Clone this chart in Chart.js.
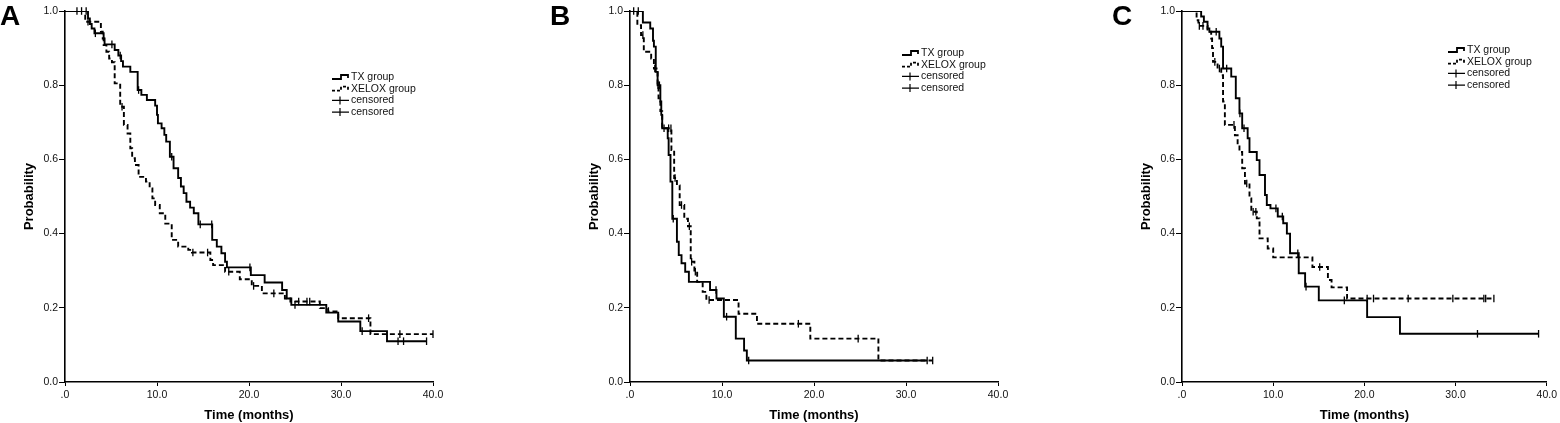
<!DOCTYPE html>
<html>
<head>
<meta charset="utf-8">
<script src="https://cdn.jsdelivr.net/npm/chart.js@4.4.1/dist/chart.umd.min.js"></script>
<style>
  html, body { margin: 0; padding: 0; background: #fff; }
  #wrap { position: relative; width: 1560px; height: 423px; overflow: hidden; }
  .panel { position: absolute; top: 0; width: 520px; height: 423px; }
  .letter { position: absolute; top: 2px; font: bold 28px "Liberation Sans", Arial, sans-serif; line-height: 1; color: #000; }
</style>
</head>
<body>
<div id="wrap">
  <div class="panel" style="left:0px"><canvas id="chartA"></canvas></div>
  <div class="panel" style="left:520px"><canvas id="chartB"></canvas></div>
  <div class="panel" style="left:1040px"><canvas id="chartC"></canvas></div>
  <div class="letter" style="left:0px">A</div>
  <div class="letter" style="left:550px">B</div>
  <div class="letter" style="left:1112px">C</div>
</div>
<script>
var xTickLabels = [".0", "10.0", "20.0", "30.0", "40.0"];
var yTickLabels = ["0.0", "0.2", "0.4", "0.6", "0.8", "1.0"];
var legendLabels = ["TX group", "XELOX group", "censored", "censored"];

// panel A
var aTxTime = [2.5, 2.7, 2.9, 3.2, 4.2, 4.3, 5.4, 5.8, 6.1, 6.3, 7.1, 7.9, 8.3, 8.9, 9.8, 10.0, 10.1, 10.5, 10.8, 11.0, 11.4, 11.8, 12.3, 12.6, 12.9, 13.2, 13.6, 14.0, 14.5, 16.0, 16.5, 17.0, 17.4, 17.6, 20.2, 21.7, 23.6, 24.1, 24.6, 28.4, 29.7, 32.1, 35.0];
var aTxSurv = [0.98, 0.965, 0.953, 0.94, 0.926, 0.91, 0.895, 0.88, 0.865, 0.85, 0.836, 0.787, 0.774, 0.76, 0.745, 0.72, 0.697, 0.684, 0.666, 0.648, 0.607, 0.576, 0.55, 0.527, 0.509, 0.486, 0.47, 0.455, 0.425, 0.383, 0.365, 0.347, 0.324, 0.309, 0.288, 0.268, 0.248, 0.225, 0.208, 0.187, 0.163, 0.137, 0.110];
var aTxCens = [1.3, 2.3, 3.3, 5.1, 6.0, 8.0, 11.6, 14.7, 15.95, 20.1, 25.0, 32.3, 36.2, 36.8, 39.3];
var aXeTime = [2.2, 3.9, 4.1, 4.2, 4.5, 4.8, 5.1, 5.4, 6.0, 6.4, 6.8, 7.1, 7.3, 7.6, 8.0, 8.8, 9.2, 9.5, 9.8, 10.3, 10.9, 11.6, 12.3, 13.4, 13.8, 15.8, 16.1, 17.4, 19.0, 20.3, 21.4, 23.9, 24.5, 27.7, 28.6, 29.7, 33.2];
var aXeSurv = [0.971, 0.944, 0.926, 0.908, 0.89, 0.872, 0.862, 0.805, 0.742, 0.693, 0.67, 0.63, 0.603, 0.585, 0.553, 0.54, 0.522, 0.495, 0.477, 0.455, 0.427, 0.383, 0.365, 0.356, 0.349, 0.329, 0.315, 0.297, 0.277, 0.259, 0.239, 0.225, 0.217, 0.199, 0.19, 0.172, 0.129];
var aXeCens = [1.8, 2.5, 6.2, 13.9, 15.5, 17.8, 20.5, 22.7, 25.4, 26.3, 26.6, 33.0, 36.4, 40.0];

// panel B
var bTxTime = [1.4, 2.2, 2.5, 2.6, 2.8, 3.0, 3.3, 3.4, 3.5, 4.1, 4.2, 4.4, 4.6, 5.1, 5.3, 5.6, 6.0, 6.4, 8.7, 9.4, 10.2, 11.5, 12.4, 12.7];
var bTxSurv = [0.969, 0.953, 0.92, 0.904, 0.836, 0.80, 0.756, 0.72, 0.684, 0.657, 0.612, 0.54, 0.44, 0.378, 0.342, 0.32, 0.297, 0.27, 0.248, 0.225, 0.176, 0.117, 0.085, 0.058];
var bTxCens = [0.4, 0.9, 3.05, 3.2, 4.7, 9.35, 10.5, 12.9, 32.3];
var bXeTime = [0.8, 1.2, 1.5, 2.3, 2.6, 3.0, 3.1, 3.3, 3.5, 4.5, 4.8, 5.1, 5.4, 5.9, 6.3, 6.6, 7.0, 7.3, 7.9, 8.3, 11.8, 13.8, 19.6, 27.0];
var bXeSurv = [0.962, 0.935, 0.89, 0.872, 0.845, 0.80, 0.765, 0.73, 0.684, 0.625, 0.55, 0.53, 0.477, 0.44, 0.42, 0.324, 0.297, 0.27, 0.243, 0.221, 0.184, 0.157, 0.117, 0.058];
var bXeCens = [1.4, 2.7, 3.7, 4.2, 4.45, 4.9, 5.6, 6.45, 6.7, 7.1, 8.6, 18.3, 24.8, 32.9];

// panel C
var cTxTime = [2.1, 2.4, 2.8, 3.0, 4.1, 4.3, 4.5, 5.4, 5.9, 6.3, 6.6, 7.2, 7.4, 8.2, 8.5, 9.1, 9.3, 9.7, 10.5, 11.1, 11.5, 11.85, 12.8, 13.5, 15.0, 20.3, 23.9];
var cTxSurv = [0.985, 0.971, 0.953, 0.944, 0.926, 0.904, 0.845, 0.823, 0.765, 0.724, 0.684, 0.657, 0.62, 0.598, 0.558, 0.504, 0.477, 0.468, 0.446, 0.428, 0.40, 0.347, 0.293, 0.257, 0.22, 0.175, 0.13];
var cTxCens = [3.75, 4.9, 6.35, 6.8, 10.3, 11.0, 12.7, 13.6, 17.8, 32.4, 39.1];
var cXeTime = [1.6, 1.8, 2.8, 3.2, 3.3, 3.4, 3.9, 4.3, 4.5, 4.7, 5.8, 6.1, 6.3, 6.6, 6.9, 7.4, 7.6, 8.2, 8.5, 9.4, 10.0, 14.3, 16.0, 16.4, 18.1];
var cXeSurv = [0.975, 0.96, 0.944, 0.926, 0.9, 0.863, 0.845, 0.827, 0.756, 0.693, 0.665, 0.639, 0.62, 0.576, 0.535, 0.495, 0.459, 0.441, 0.387, 0.36, 0.336, 0.31, 0.275, 0.255, 0.225];
var cXeCens = [1.9, 2.3, 3.6, 4.1, 5.7, 7.1, 7.8, 8.1, 15.1, 20.3, 21.0, 24.8, 29.7, 33.1, 33.3, 34.2];

Chart.defaults.font.family = '"Liberation Sans", Arial, sans-serif';
Chart.defaults.color = "#111";

// step value of the curve at time t
function survAt(times, surv, t) {
    var s = 1;
    for (var i = 0; i < times.length; i++) {
        if (times[i] <= t) s = surv[i];
    }
    return s;
}

function curvePoints(times, surv, cens) {
    var pts = [{x: 0, y: 1}];
    for (var i = 0; i < times.length; i++) pts.push({x: times[i], y: surv[i]});
    var end = Math.max(Math.max.apply(null, cens), times[times.length - 1]);
    pts.push({x: end, y: surv[surv.length - 1]});
    return pts;
}

function censPoints(times, surv, cens) {
    return cens.map(function (t) { return {x: t, y: survAt(times, surv, t)}; });
}

var kmLegend = {
    id: "kmLegend",
    afterDraw: function (chart, args, opts) {
        var ctx = chart.ctx, area = chart.chartArea;
        var x = area.left + opts.dx, y = area.top + opts.dy;
        ctx.save();
        ctx.strokeStyle = "#000";
        ctx.fillStyle = "#111";
        ctx.font = '10.5px "Liberation Sans", Arial, sans-serif';
        ctx.textBaseline = "middle";
        for (var i = 0; i < legendLabels.length; i++) {
            var yy = y + i * 11.7;
            ctx.beginPath();
            if (i < 2) {
                ctx.lineWidth = 1.8;
                ctx.setLineDash(i === 1 ? [3, 2] : []);
                ctx.moveTo(x, yy + 2);
                ctx.lineTo(x + 9, yy + 2);
                ctx.lineTo(x + 9, yy - 2);
                ctx.lineTo(x + 16, yy - 2);
                ctx.lineTo(x + 16, yy + 1);
            } else {
                ctx.lineWidth = 1.2;
                ctx.setLineDash([]);
                ctx.moveTo(x, yy);
                ctx.lineTo(x + 17, yy);
                ctx.moveTo(x + 8, yy - 4);
                ctx.lineTo(x + 8, yy + 4);
            }
            ctx.stroke();
            ctx.fillText(legendLabels[i], x + 19, yy);
        }
        ctx.restore();
    }
};

function makeChart(id, tx, xe, lay) {
    var lineStyle = {
        showLine: true, stepped: true, pointRadius: 0, borderColor: "#000",
        borderWidth: 1.9, fill: false, order: 2
    };
    var censStyle = {
        showLine: false, pointStyle: "line", pointRotation: 90, pointRadius: 3.8,
        pointBorderWidth: 1.3, pointBorderColor: "#000", pointBackgroundColor: "#000",
        clip: false, order: 1
    };
    var datasets = [
        Object.assign({label: legendLabels[0], data: curvePoints(tx[0], tx[1], tx[2])}, lineStyle),
        Object.assign({label: legendLabels[1], data: curvePoints(xe[0], xe[1], xe[2]), borderDash: [5, 3]}, lineStyle),
        Object.assign({label: legendLabels[2], data: censPoints(tx[0], tx[1], tx[2])}, censStyle),
        Object.assign({label: legendLabels[3], data: censPoints(xe[0], xe[1], xe[2])}, censStyle)
    ];
    return new Chart(document.getElementById(id), {
        type: "scatter",
        data: {datasets: datasets},
        plugins: [kmLegend],
        options: {
            responsive: true,
            maintainAspectRatio: false,
            animation: false,
            layout: {padding: {left: lay.left - 50, right: lay.right, top: 11, bottom: 0}},
            plugins: {
                legend: {display: false},
                tooltip: {enabled: false},
                kmLegend: {dx: lay.dx, dy: lay.dy}
            },
            scales: {
                x: {
                    type: "linear", min: 0, max: 40,
                    afterFit: function (s) { s.height = 41; },
                    ticks: {
                        stepSize: 10, maxRotation: 0, padding: 3, color: "#111", font: {size: 10.5},
                        callback: function (v, i) { return xTickLabels[i]; }
                    },
                    grid: {drawOnChartArea: false, drawTicks: true, tickLength: 4, color: "#000"},
                    border: {display: true, color: "#000", width: 1.6},
                    title: {display: true, text: "Time (months)", color: "#000", font: {size: 13, weight: "bold"}, padding: {top: 0, bottom: 0}}
                },
                y: {
                    type: "linear", min: 0, max: 1,
                    afterFit: function (s) { s.width = 50; },
                    ticks: {
                        stepSize: 0.2, padding: 1, color: "#111", font: {size: 10.5},
                        callback: function (v, i) { return yTickLabels[i]; }
                    },
                    grid: {drawOnChartArea: false, drawTicks: true, tickLength: 6, color: "#000"},
                    border: {display: true, color: "#000", width: 1.6},
                    title: {display: true, text: "Probability", color: "#000", font: {size: 13, weight: "bold"}, padding: {top: 7, bottom: 0}}
                }
            }
        }
    });
}

makeChart("chartA", [aTxTime, aTxSurv, aTxCens], [aXeTime, aXeSurv, aXeCens], {left: 65, right: 87, dx: 267, dy: 66});
makeChart("chartB", [bTxTime, bTxSurv, bTxCens], [bXeTime, bXeSurv, bXeCens], {left: 110, right: 42, dx: 272, dy: 42});
makeChart("chartC", [cTxTime, cTxSurv, cTxCens], [cXeTime, cXeSurv, cXeCens], {left: 142, right: 11, dx: 266, dy: 39});
</script>
</body>
</html>
